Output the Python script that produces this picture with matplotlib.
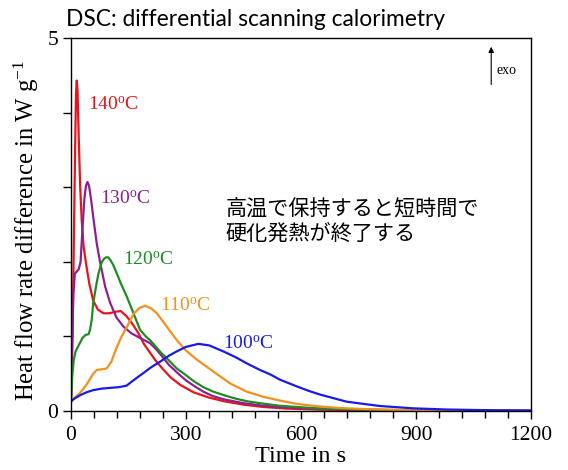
import matplotlib
matplotlib.use("Agg")
import matplotlib.pyplot as plt
from matplotlib.ticker import FixedLocator, FixedFormatter, MultipleLocator

plt.rcParams['font.family'] = ['Liberation Serif', 'DejaVu Serif']
plt.rcParams['mathtext.fontset'] = 'custom'
plt.rcParams['mathtext.rm'] = 'Liberation Serif'
plt.rcParams['mathtext.it'] = 'Liberation Serif:italic'

# ---- data ----
t_140 = [0, 4, 8, 11, 13, 15, 17, 20, 24, 28, 33, 40, 48, 58, 70, 85, 100, 115, 130, 145,
         160, 175, 190, 205, 220, 240, 260, 285, 320, 360, 400, 450, 500, 560, 650, 750,
         900, 1050, 1200]
y_140 = [0.12, 1.0, 2.5, 3.6, 4.25, 4.43, 4.3, 3.7, 3.0, 2.55, 2.2, 1.95, 1.7, 1.48, 1.36,
         1.31, 1.31, 1.33, 1.34, 1.27, 1.17, 1.05, 0.9, 0.79, 0.68, 0.56, 0.45, 0.35, 0.25,
         0.18, 0.13, 0.085, 0.055, 0.033, 0.018, 0.01, 0.005, 0.003, 0.002]

t_130 = [0, 3, 6, 10, 15, 20, 25, 30, 35, 39, 43, 47, 52, 58, 67, 76, 89, 102, 119, 137,
         158, 180, 206, 220, 235, 255, 280, 300, 320, 345, 370, 400, 450, 500, 560, 650,
         750, 900, 1050, 1200]
y_130 = [0.13, 0.9, 1.55, 1.84, 1.87, 1.9, 2.0, 2.45, 2.85, 3.02, 3.07, 3.02, 2.85, 2.6,
         2.25, 1.99, 1.67, 1.45, 1.25, 1.13, 1.04, 0.98, 0.91, 0.84, 0.75, 0.62, 0.5, 0.41,
         0.34, 0.26, 0.2, 0.155, 0.105, 0.072, 0.048, 0.028, 0.016, 0.008, 0.004, 0.003]

t_120 = [0, 3, 7, 12, 18, 23, 30, 38, 46, 50, 54, 58, 63, 67, 72, 80, 86, 91, 97, 102, 110,
         119, 130, 145, 163, 180, 195, 206, 220, 235, 255, 276, 300, 320, 345, 371, 400,
         430, 460, 500, 545, 600, 650, 750, 900, 1050, 1200]
y_120 = [0.13, 0.45, 0.68, 0.8, 0.86, 0.91, 0.98, 1.02, 1.03, 1.1, 1.22, 1.45, 1.6, 1.72,
         1.85, 1.99, 2.04, 2.06, 2.06, 2.03, 1.96, 1.85, 1.71, 1.54, 1.31, 1.09, 1.0, 0.95,
         0.87, 0.78, 0.68, 0.57, 0.48, 0.4, 0.32, 0.26, 0.21, 0.165, 0.13, 0.1, 0.07, 0.05,
         0.035, 0.02, 0.01, 0.005, 0.003]

t_110 = [0, 10, 23, 40, 58, 67, 80, 93, 105, 119, 132, 145, 163, 178, 193, 208, 224, 250,
         276, 300, 328, 371, 415, 458, 502, 545, 589, 640, 700, 800, 900, 1050, 1200]
y_110 = [0.13, 0.18, 0.24, 0.35, 0.5, 0.55, 0.56, 0.57, 0.66, 0.85, 1.0, 1.12, 1.3, 1.38,
         1.41, 1.38, 1.31, 1.13, 0.95, 0.81, 0.69, 0.53, 0.37, 0.26, 0.19, 0.14, 0.095,
         0.065, 0.04, 0.02, 0.01, 0.005, 0.003]

t_100 = [0, 10, 23, 40, 58, 80, 102, 125, 145, 165, 189, 210, 232, 255, 276, 300, 332, 360,
         397, 430, 458, 493, 520, 545, 589, 620, 650, 719, 806, 893, 980, 1100, 1200]
y_100 = [0.13, 0.17, 0.21, 0.25, 0.28, 0.3, 0.31, 0.32, 0.34, 0.42, 0.51, 0.59, 0.66, 0.74,
         0.8, 0.86, 0.9, 0.88, 0.8, 0.72, 0.64, 0.55, 0.49, 0.42, 0.33, 0.27, 0.22, 0.125,
         0.067, 0.036, 0.02, 0.01, 0.006]

series_labels = ['140$^{\\mathregular{o}}$C', '130$^{\\mathregular{o}}$C',
                 '120$^{\\mathregular{o}}$C', '110$^{\\mathregular{o}}$C',
                 '100$^{\\mathregular{o}}$C']
series_colors = ['#e8141b', '#8e1f8f', '#1f8c22', '#f5901e', '#1a1ae6']
label_pos_t = [44, 76, 136, 232, 397]
label_pos_y = [4.11, 2.84, 2.02, 1.41, 0.9]

x_ticks = [0, 300, 600, 900, 1200]
y_ticks = [0, 1, 2, 3, 4, 5]
y_ticklabels = ['0', '', '', '', '', '5']

title = 'DSC: differential scanning calorimetry'
note = '高温で保持すると短時間で\n硬化発熱が終了する'

# ---- figure ----
fig = plt.figure(figsize=(5.68, 4.70), dpi=100)
ax = fig.add_axes([0.125, 0.1255, 0.81, 0.7936])

curves = [(t_140, y_140), (t_130, y_130), (t_120, y_120), (t_110, y_110), (t_100, y_100)]
for (tt, yy), c in zip(curves, series_colors):
    ax.plot(tt, yy, color=c, lw=1.6, solid_joinstyle='round')

for lab, c, lt, ly in zip(series_labels, series_colors, label_pos_t, label_pos_y):
    ax.text(lt, ly, lab, color=c, fontsize=14, ha='left', va='center')

ax.set_xlim(0, 1200)
ax.set_ylim(0, 5)
ax.xaxis.set_major_locator(FixedLocator(x_ticks))
ax.xaxis.set_minor_locator(MultipleLocator(60))
ax.yaxis.set_major_locator(FixedLocator(y_ticks))
ax.yaxis.set_major_formatter(FixedFormatter(y_ticklabels))
ax.tick_params(axis='both', which='major', direction='out', length=6, width=1,
               labelsize=15.5, pad=3)
ax.tick_params(axis='x', which='major', pad=5)
ax.tick_params(axis='x', which='minor', direction='out', length=5, width=1)
for s in ax.spines.values():
    s.set_linewidth(1.0)

ax.set_xlabel('Time in s', fontsize=17.5)
ax.xaxis.set_label_coords(0.5, -0.093)
ax.set_ylabel('Heat flow rate difference in W g$^{\\mathregular{-1}}$', fontsize=17.8)
ax.yaxis.set_label_coords(-0.066, 0.485)

ax.text(404, 2.86, note, family=['Noto Sans CJK JP', 'DejaVu Sans'], fontsize=15.2,
        ha='left', va='top', linespacing=1.2)

ax.annotate('', xy=(1096, 4.92), xytext=(1096, 4.34),
            arrowprops=dict(arrowstyle='-|>', color='black', lw=0.8, mutation_scale=8))
ax.text(1109, 4.56, 'exo', fontsize=10, ha='left', va='center')

fig.text(66 / 568, 1 - 19 / 470, title, family=['Lato', 'DejaVu Sans'], fontsize=16.4,
         ha='left', va='center')

fig.savefig('out.png', dpi=100)
